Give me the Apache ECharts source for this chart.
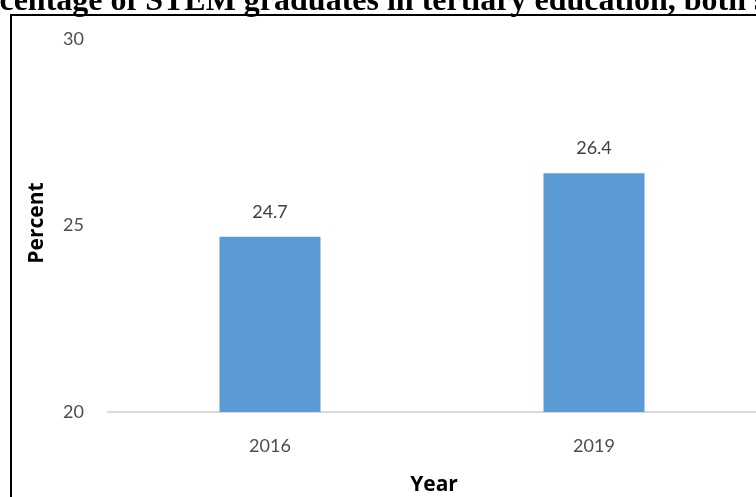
<!DOCTYPE html>
<html>
<head>
<meta charset="utf-8">
<script src="https://cdn.jsdelivr.net/npm/echarts@6/dist/echarts.min.js"></script>
<style>
html,body{margin:0;padding:0;background:#fff;overflow:hidden;}
#c{width:756px;height:497px;}
</style>
</head>
<body>
<div id="c"></div>
<script>
const categories = ['2016', '2019'];
const values = [24.7, 26.4];
const yMin = 20, yMax = 30, yStep = 5;
const titleText = 'Percentage of STEM graduates in tertiary education, both sexes';
const hiddenPrefix = 'Per';
const yName = 'Percent';
const xName = 'Year';

const titleFont = 'bold 32px "Liberation Serif"';
const mctx = document.createElement('canvas').getContext('2d');
mctx.font = titleFont;
const titleOffset = mctx.measureText(hiddenPrefix).width;

const chart = echarts.init(document.getElementById('c'), null, {renderer: 'canvas'});
chart.setOption({
  animation: false,
  backgroundColor: '#ffffff',
  grid: {left: 108, top: 39, width: 652, bottom: 85, containLabel: false},
  xAxis: {
    type: 'category',
    data: categories,
    axisLine: {show: true, lineStyle: {color: '#d9d9d9', width: 2}},
    axisTick: {show: false},
    axisLabel: {color: '#4d4d4d', fontSize: 18, fontFamily: 'Lato', margin: 25}
  },
  yAxis: {
    type: 'value',
    min: yMin, max: yMax, interval: yStep,
    axisLine: {show: false},
    axisTick: {show: false},
    splitLine: {show: false},
    axisLabel: {color: '#4d4d4d', fontSize: 18, fontFamily: 'Lato', margin: 24}
  },
  series: [{
    type: 'bar',
    data: values,
    barWidth: 101,
    itemStyle: {color: '#5b9bd5'},
    label: {show: true, position: 'top', distance: 16, color: '#404040', fontSize: 18, fontFamily: 'Lato'}
  }],
  graphic: [
    {type: 'rect', z: 0, shape: {x: 11, y: 15, width: 1000, height: 1000},
     style: {fill: 'none', stroke: '#000', lineWidth: 2}},
    {type: 'text', z: 10, x: -titleOffset, y: 2,
     style: {text: titleText, font: titleFont, fill: '#000', verticalAlign: 'middle', align: 'left'}},
    {type: 'text', z: 10, x: 37, y: 223, rotation: Math.PI / 2,
     style: {text: yName, fontSize: 21, fontWeight: 'bold', fontFamily: 'Open Sans', fill: '#000', align: 'center', verticalAlign: 'middle'}},
    {type: 'text', z: 10, x: 434, y: 485,
     style: {text: xName, fontSize: 21, fontWeight: 'bold', fontFamily: 'Open Sans', fill: '#000', align: 'center', verticalAlign: 'middle'}}
  ]
});
</script>
</body>
</html>
